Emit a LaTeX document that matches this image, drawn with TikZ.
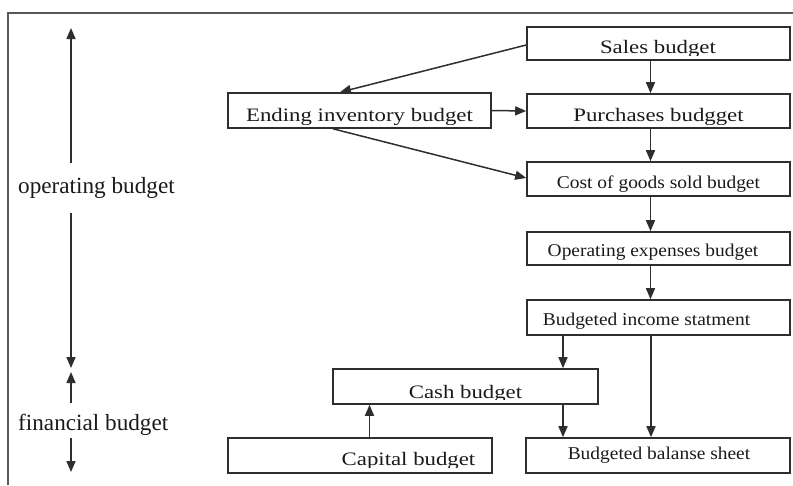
\documentclass[tikz,border=0pt]{standalone}
\usepackage{graphicx}
\usepackage{fontspec}
\setmainfont{Liberation Serif}
\usetikzlibrary{arrows.meta}
\definecolor{ink}{HTML}{1A1A1A}
\definecolor{edge}{HTML}{2E2E2E}
\newcommand{\bstretch}[1]{\scalebox{1.2}[1]{#1}}
\newcommand{\sstretch}[1]{\scalebox{1.08}[1]{#1}}
\tikzset{
  box/.style={draw=edge, line width=1.6pt, rectangle, inner sep=0pt},
  bigtxt/.style={anchor=base, inner sep=0pt, text=ink, font=\fontsize{19}{19}\selectfont},
  smalltxt/.style={anchor=base, inner sep=0pt, text=ink, font=\fontsize{18}{18}\selectfont},
  sidetxt/.style={anchor=base west, inner sep=0pt, text=ink, font=\fontsize{23.2}{23.2}\selectfont},
  arr/.style={draw=edge, line width=1.5pt, -{Triangle[length=11pt,width=9pt]}},
  frameline/.style={draw=edge!80, line width=1.6pt},
}
\begin{document}
\begin{tikzpicture}[x=1pt,y=-1pt]
\useasboundingbox (0,0) rectangle (793,485);
% frame
\draw[frameline] (8,485) -- (8,13) -- (793,13);

% boxes
\node[box, minimum width=263pt, minimum height=33pt] (sales) at (658.5,43.5) {};
\node[box, minimum width=263pt, minimum height=34pt] (purch) at (658.5,111) {};
\node[box, minimum width=263pt, minimum height=35pt] (ending) at (359.5,110.5) {};
\node[box, minimum width=263pt, minimum height=34pt] (cogs) at (658.5,179) {};
\node[box, minimum width=263pt, minimum height=33pt] (opex) at (658.5,248.5) {};
\node[box, minimum width=263pt, minimum height=35pt] (income) at (658.5,317.5) {};
\node[box, minimum width=265pt, minimum height=35pt] (cash) at (465.5,386.5) {};
\node[box, minimum width=264pt, minimum height=35pt] (capital) at (360,455.5) {};
\node[box, minimum width=264pt, minimum height=35pt] (balance) at (658,455.5) {};

% clipped big texts
\begin{scope}
\clip (527,27) rectangle (790,55.5);
\node[bigtxt] (salesT) at (658,53.5) {\bstretch{Sales budget}};
\end{scope}
\begin{scope}
\clip (527,94) rectangle (790,124);
\node[bigtxt] (purchT) at (658.5,121.7) {\bstretch{Purchases budgget}};
\end{scope}
\begin{scope}
\clip (228,93) rectangle (491,124);
\node[bigtxt] (endingT) at (359.5,121.7) {\bstretch{Ending inventory budget}};
\end{scope}
\begin{scope}
\clip (333,369) rectangle (598,399.5);
\node[bigtxt] (cashT) at (465.5,398) {\bstretch{Cash budget}};
\end{scope}
\begin{scope}
\clip (228,438) rectangle (492,467.5);
\node[bigtxt] (capitalT) at (408.5,465.5) {\bstretch{Capital budget}};
\end{scope}

% small texts
\node[smalltxt] (cogsT) at (658.5,188) {\sstretch{Cost of goods sold budget}};
\node[smalltxt] (opexT) at (653,256) {\sstretch{Operating expenses budget}};
\node[smalltxt] (incomeT) at (646.5,325) {\sstretch{Budgeted income statment}};
\node[smalltxt] (balanceT) at (659,459) {\sstretch{Budgeted balanse sheet}};

% side labels
\node[sidetxt] (opLab) at (18,193) {operating budget};
\node[sidetxt] (finLab) at (18,430) {financial budget};

% side arrows
\coordinate (opA) at (71,163);
\coordinate (opB) at (71,28);
\coordinate (opC) at (71,213);
\coordinate (opD) at (71,368);
\coordinate (fiA) at (71,403);
\coordinate (fiB) at (71,372);
\coordinate (fiC) at (71,438);
\coordinate (fiD) at (71,472);
\draw[arr] (opA) -- (opB);
\draw[arr] (opC) -- (opD);
\draw[arr] (fiA) -- (fiB);
\draw[arr] (fiC) -- (fiD);

% connectors
\draw[arr] ([yshift=-1.5pt]sales.west) -- ([xshift=-19.5pt]ending.north);
\draw[arr] (ending.east) -- (purch.west);
\draw[arr] ([xshift=-26.5pt]ending.south) -- ([yshift=1pt]cogs.west);
\draw[arr] ([xshift=-8pt]sales.south) -- ([xshift=-8pt]purch.north);
\draw[arr] ([xshift=-8pt]purch.south) -- ([xshift=-8pt]cogs.north);
\draw[arr] ([xshift=-8pt]cogs.south) -- ([xshift=-8pt]opex.north);
\draw[arr] ([xshift=-8pt]opex.south) -- ([xshift=-8pt]income.north);
\draw[arr] ([xshift=-95.5pt]income.south) -- ([xshift=97.5pt]cash.north);
\draw[arr] ([xshift=-7.5pt]income.south) -- ([xshift=-7pt]balance.north);
\draw[arr] ([xshift=97.5pt]cash.south) -- ([xshift=-95pt]balance.north);
\draw[arr] ([xshift=9.5pt]capital.north) -- ([xshift=-96pt]cash.south);
\end{tikzpicture}
\end{document}
